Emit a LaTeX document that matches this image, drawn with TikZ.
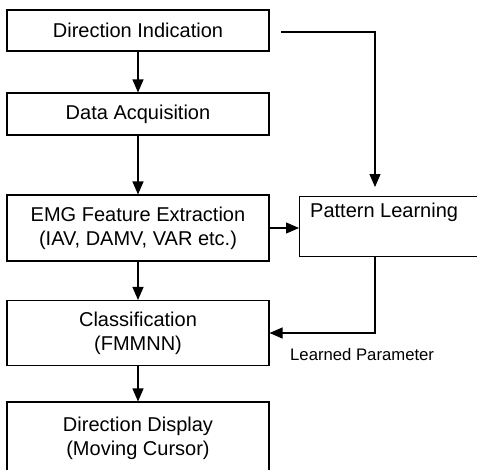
\documentclass[tikz,border=0pt]{standalone}
\usepackage{fontspec}
\setmainfont{Liberation Sans}
\usetikzlibrary{arrows.meta}
\begin{document}
\begin{tikzpicture}[x=1pt,y=-1pt,
    box/.style={draw,line width=1.1pt,minimum width=262pt,inner sep=0pt,
      align=center,font=\fontsize{20}{24}\selectfont},
    flow/.style={line width=1.1pt,-{Triangle[width=11pt,length=13pt]}}]
  \clip (0,0) rectangle (477,469);

  \node[box,minimum height=41pt] (dir) at (138,30.5) {Direction Indication};
  \node[box,minimum height=42pt] (acq) at (138,114) {Data Acquisition};
  \node[box,minimum height=66pt] (feat) at (138,228)
    {EMG Feature Extraction\\(IAV, DAMV, VAR etc.)};
  \node[box,minimum height=65pt] (class) at (138,333) {Classification\\(FMMNN)};
  \node[box,minimum height=72pt] (disp) at (138,438)
    {Direction Display\\(Moving Cursor)};

  \node[box,minimum width=200pt,minimum height=60pt,anchor=north west] (learn)
    at (299,196) {};
  \node[anchor=base west,inner sep=0pt,font=\fontsize{20}{24}\selectfont]
    (learntxt) at (310,217) {Pattern Learning};
  \node[anchor=base west,inner sep=0pt,font=\fontsize{16.7}{20}\selectfont]
    (param) at (290,360) {Learned Parameter};

  \coordinate (from) at (281,32);
  \coordinate (into) at (375,187);

  \draw[flow] (dir) -- (acq);
  \draw[flow] (acq) -- (feat);
  \draw[flow] (feat) -- (class);
  \draw[flow] (class) -- (disp);
  \draw[flow] (feat.east) -- (feat.east -| learn.west);
  \draw[flow] (from) -| (into);
  \draw[flow] (into |- learn.south) |- (class.east);
\end{tikzpicture}
\end{document}
